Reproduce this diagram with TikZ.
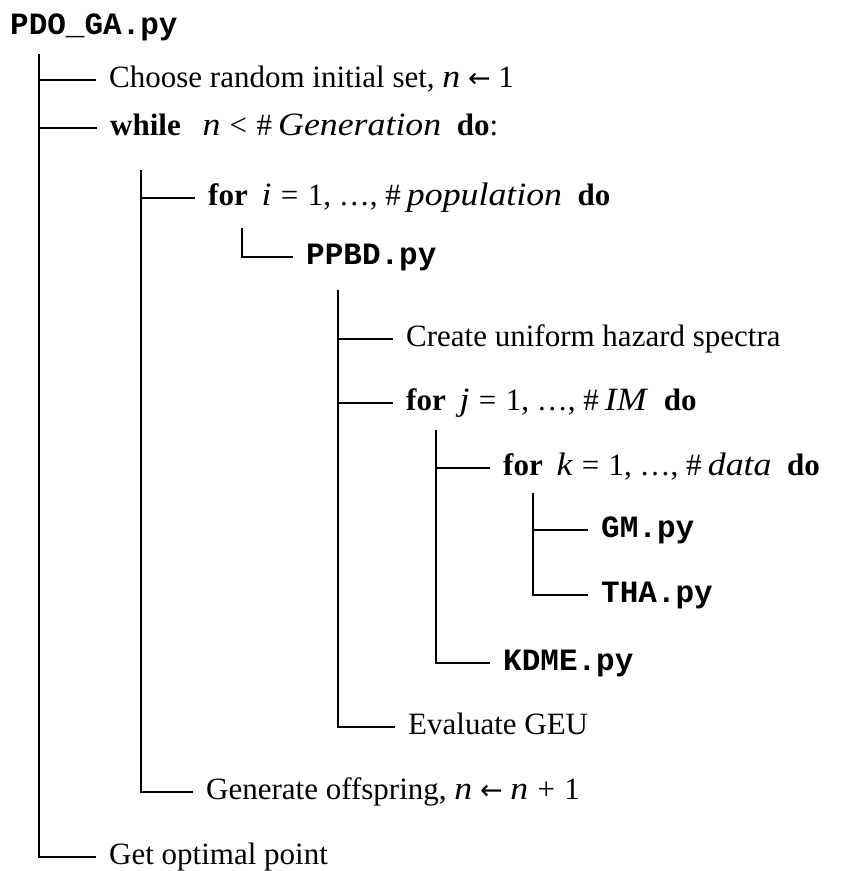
\documentclass[tikz,border=0pt]{standalone}
\usepackage{fontspec}
\setmainfont{Liberation Serif}
\setmonofont{Liberation Mono}
\newfontfamily\mifont{Liberation Serif}[Scale=1.05,FakeStretch=1.1]
\newfontfamily\arrfont{DejaVu Sans}
\newcommand{\mi}[1]{{\mifont\itshape #1}}
\newcommand{\rel}[1]{\hspace{0.3em}#1\hspace{0.3em}}
\newcommand{\larr}{\hspace{0.25em}{\arrfont\fontsize{27}{30}\selectfont ←}\hspace{0.25em}}
\begin{document}
\begin{tikzpicture}[x=1pt,y=-1pt,
  every node/.style={font=\fontsize{31}{36}\selectfont},
  item/.style={anchor=west,inner xsep=13pt,inner ysep=0pt,text height=22pt,text depth=7pt},
  code/.style={item,font=\fontsize{31}{36}\selectfont\ttfamily\bfseries},
  tree/.style={line width=2.6pt}]
\useasboundingbox (0,0) rectangle (843,871);
% title
\node[code,inner xsep=0pt] (title) at (10,27) {PDO\_GA.py};
% trunks
\coordinate (t1) at (39,54);
\coordinate (t2) at (141,170);
\coordinate (t3) at (242,228);
\coordinate (t4) at (338,290);
\coordinate (t5) at (436,430);
\coordinate (t6) at (533,493);
% items
\node[item] (choose) at (96,80) {Choose random initial set, \mi{n}\larr1};
\node[item] (while) at (97,128) {\textbf{while}\hspace{0.7em}\mi{n}\rel{<}\#\hspace{0.2em}\mi{Generation}\hspace{0.5em}\textbf{do}:};
\node[item] (fori) at (195,198) {\textbf{for}\hspace{0.45em}\mi{i}\rel{=}1, …, \#\hspace{0.2em}\mi{population}\hspace{0.5em}\textbf{do}};
\node[code] (ppbd) at (293,257) {PPBD.py};
\node[item] (create) at (393,339) {Create uniform hazard spectra};
\node[item] (forj) at (393,403) {\textbf{for}\hspace{0.45em}\mi{j}\rel{=}1, …, \#\hspace{0.2em}\mi{IM}\hspace{0.5em}\textbf{do}};
\node[item] (fork) at (490,468) {\textbf{for}\hspace{0.45em}\mi{k}\rel{=}1, …, \#\hspace{0.2em}\mi{data}\hspace{0.5em}\textbf{do}};
\node[code] (gm) at (588,530) {GM.py};
\node[code] (tha) at (588,595) {THA.py};
\node[code] (kdme) at (490,663) {KDME.py};
\node[item] (geu) at (395,727) {Evaluate GEU};
\node[item] (gen) at (193,792) {Generate offspring, \mi{n}\larr\mi{n}\rel{+}1};
\node[item] (opt) at (96,857) {Get optimal point};
% connectors
\draw[tree] (t1) |- (choose.west);
\draw[tree] (t1) |- (while.west);
\draw[tree] (t1) |- (opt.west);
\draw[tree] (t2) |- (fori.west);
\draw[tree] (t2) |- (gen.west);
\draw[tree] (t3) |- (ppbd.west);
\draw[tree] (t4) |- (create.west);
\draw[tree] (t4) |- (forj.west);
\draw[tree] (t4) |- (geu.west);
\draw[tree] (t5) |- (fork.west);
\draw[tree] (t5) |- (kdme.west);
\draw[tree] (t6) |- (gm.west);
\draw[tree] (t6) |- (tha.west);
\end{tikzpicture}
\end{document}
